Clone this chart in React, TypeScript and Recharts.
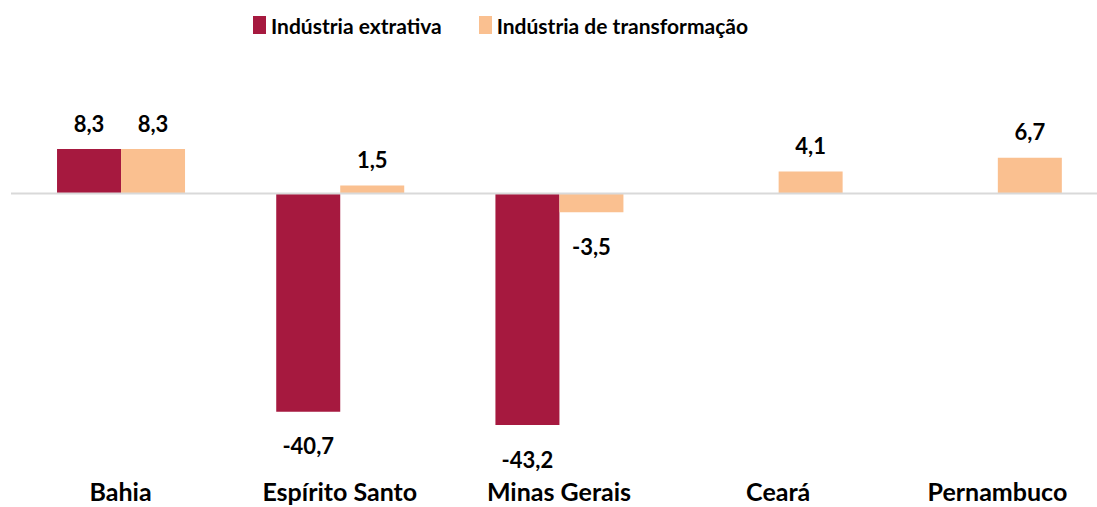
import React from 'react';
import { BarChart, Bar, XAxis, YAxis, ReferenceLine, Legend, LabelList } from 'recharts';

const states = ['Bahia', 'Espírito Santo', 'Minas Gerais', 'Ceará', 'Pernambuco'];
const extrativa = [8.3, -40.7, -43.2, null, null];
const transformacao = [8.3, 1.5, -3.5, 4.1, 6.7];

const RED = '#A6193F';
const ORANGE = '#FAC090';
const FONT = 'Lato, "Open Sans", sans-serif';

const data = states.map((s, i) => ({
  name: s,
  extrativa: extrativa[i],
  transformacao: transformacao[i],
}));

const fmt = (v: number) => v.toFixed(1).replace('.', ',');

const ValueLabel = (props: any) => {
  const { x, y, width, height, value } = props;
  if (value === null || value === undefined) return null;
  const top = Math.min(y, y + height);
  const bottom = Math.max(y, y + height);
  const cy = value >= 0 ? top - 26 : bottom + 34;
  return (
    <text
      x={x + width / 2}
      y={cy}
      textAnchor="middle"
      dominantBaseline="central"
      fontFamily={FONT}
      fontWeight={700}
      fontSize={22}
      fill="#000"
    >
      {fmt(value)}
    </text>
  );
};

const StateTick = (props: any) => {
  const { x, y, payload } = props;
  return (
    <text
      x={x}
      y={y + 31}
      textAnchor="middle"
      fontFamily={FONT}
      fontWeight={700}
      fontSize={25}
      fill="#000"
    >
      {payload.value}
    </text>
  );
};

const LegendBox = () => (
  <div
    style={{
      height: 36,
      display: 'flex',
      alignItems: 'center',
      fontFamily: FONT,
      fontWeight: 700,
      fontSize: 21,
      color: '#000',
      paddingLeft: 253,
    }}
  >
    <span style={{ width: 13, height: 18, background: RED, display: 'inline-block', marginRight: 5 }} />
    <span style={{ marginRight: 37 }}>Indústria extrativa</span>
    <span style={{ width: 13, height: 18, background: ORANGE, display: 'inline-block', marginRight: 5 }} />
    <span>Indústria de transformação</span>
  </div>
);

export default function App() {
  return (
    <div style={{ position: 'absolute', left: 0, top: 0, width: 1097, height: 507, overflow: 'hidden', background: '#fff' }}>
      <BarChart
        width={1120}
        height={510}
        data={data}
        margin={{ top: 104, right: 13, bottom: 3, left: 11 }}
        barCategoryGap="21%"
        barGap={0}
      >
        <Legend verticalAlign="top" align="left" content={<LegendBox />} wrapperStyle={{ top: 7, left: 0 }} />
        <XAxis dataKey="name" axisLine={false} tickLine={false} height={45.5} tick={<StateTick />} interval={0} />
        <YAxis hide domain={[-50, 10]} />
        <ReferenceLine y={0} stroke="#D9D9D9" strokeWidth={2} ifOverflow="extendDomain" />
        <Bar dataKey="extrativa" fill={RED} isAnimationActive={false}>
          <LabelList dataKey="extrativa" content={<ValueLabel />} />
        </Bar>
        <Bar dataKey="transformacao" fill={ORANGE} isAnimationActive={false}>
          <LabelList dataKey="transformacao" content={<ValueLabel />} />
        </Bar>
      </BarChart>
    </div>
  );
}
